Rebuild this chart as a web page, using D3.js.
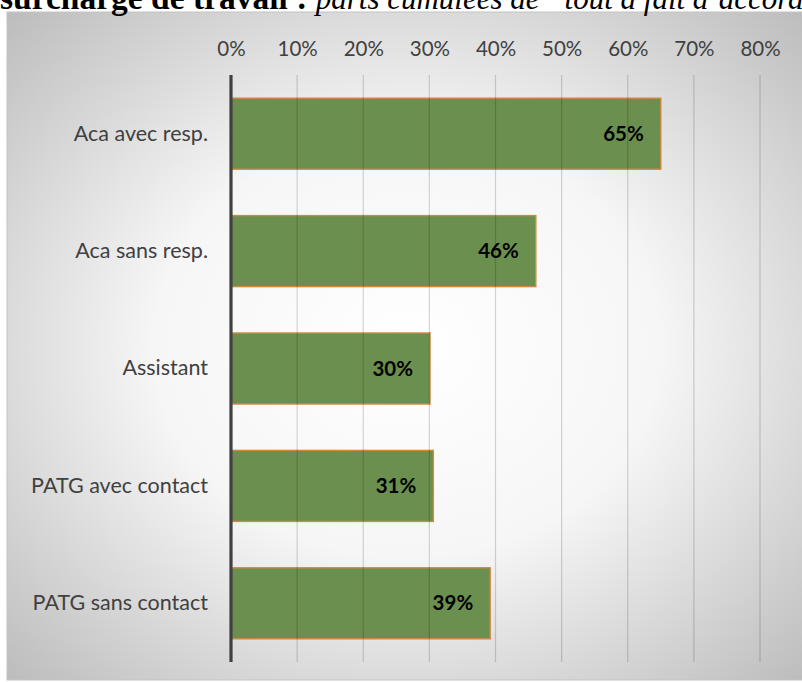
<!DOCTYPE html>
<html><head><meta charset="utf-8">
<script src="https://cdn.jsdelivr.net/npm/d3@7"></script>
<style>html,body{margin:0;padding:0;background:#fff;overflow:hidden}</style>
</head><body>
<svg id="c" width="802" height="682"></svg>
<script>
const categories = ["Aca avec resp.", "Aca sans resp.", "Assistant", "PATG avec contact", "PATG sans contact"];
const values = [0.65, 0.461, 0.301, 0.306, 0.392];
const valueLabels = ["65%", "46%", "30%", "31%", "39%"];
const ticks = [0, 0.1, 0.2, 0.3, 0.4, 0.5, 0.6, 0.7, 0.8];

const svg = d3.select("#c");
const defs = svg.append("defs");
const g = defs.append("radialGradient").attr("id","bg").attr("cx","50%").attr("cy","50%").attr("r","70%");
g.append("stop").attr("offset","0%").attr("stop-color","#ffffff");
g.append("stop").attr("offset","45%").attr("stop-color","#f6f6f6");
g.append("stop").attr("offset","100%").attr("stop-color","#bdbdbd");

svg.append("rect").attr("x",7).attr("y",12).attr("width",800).attr("height",668)
  .attr("fill","url(#bg)").attr("stroke","#c4c4c4").attr("stroke-width",1);

// title (top clipped, as in the reference)
const t = svg.append("text").attr("x",0).attr("y",9)
  .style("font-family","'Liberation Serif', 'Times New Roman', serif").attr("fill","#000");
t.append("tspan").attr("font-weight","bold").style("font-size","33.5px").text("surcharge de travail : ");
t.append("tspan").attr("font-style","italic").style("font-size","31px").text("parts cumulées de \u201Ctout à fait d\u2019accord\u201D");

const x = d3.scaleLinear().domain([0,0.8]).range([231,760]);
const y = d3.scaleBand().domain(categories).range([75,662]).paddingInner(0.395).paddingOuter(0.1975);

const font = "Lato, 'Open Sans', sans-serif";

// bars
svg.append("g").selectAll("rect").data(values).join("rect")
  .attr("x", x(0)).attr("y",(d,i)=>y(categories[i]))
  .attr("width", d=>x(d)-x(0)).attr("height", y.bandwidth())
  .attr("fill","#6a8f4e").attr("stroke","#cf8a3f").attr("stroke-width",1.4);

// gridlines
svg.append("g").selectAll("line").data(ticks.slice(1)).join("line")
  .attr("x1",d=>x(d)).attr("x2",d=>x(d)).attr("y1",75).attr("y2",662)
  .attr("stroke","#000").attr("stroke-opacity",0.16).attr("stroke-width",1.2);

// top axis labels
const ax = svg.append("g").attr("transform","translate(0,56)")
  .call(d3.axisTop(x).tickValues(ticks).tickFormat(d3.format(".0%")).tickSize(0).tickPadding(0));
ax.select(".domain").remove();
ax.selectAll("text").attr("fill","#404040").style("font-family",font).style("font-size","20.5px").attr("dy",0);

// zero line
svg.append("line").attr("x1",x(0)).attr("x2",x(0)).attr("y1",75).attr("y2",662)
  .attr("stroke","#404040").attr("stroke-width",3.2);

// category labels
const ay = svg.append("g").attr("transform","translate(208,0)")
  .call(d3.axisLeft(y).tickSize(0).tickPadding(0));
ay.select(".domain").remove();
ay.selectAll("text").attr("fill","#404040").style("font-family",font).style("font-size","21.5px");

// value labels
svg.append("g").selectAll("text").data(values).join("text")
  .attr("x", d=>x(d)-17).attr("y",(d,i)=>y(categories[i])+y.bandwidth()/2)
  .attr("dy","0.35em").attr("text-anchor","end")
  .style("font-family",font).style("font-weight","bold").style("font-size","20.5px").attr("fill","#000")
  .text((d,i)=>valueLabels[i]);
</script>
</body></html>
